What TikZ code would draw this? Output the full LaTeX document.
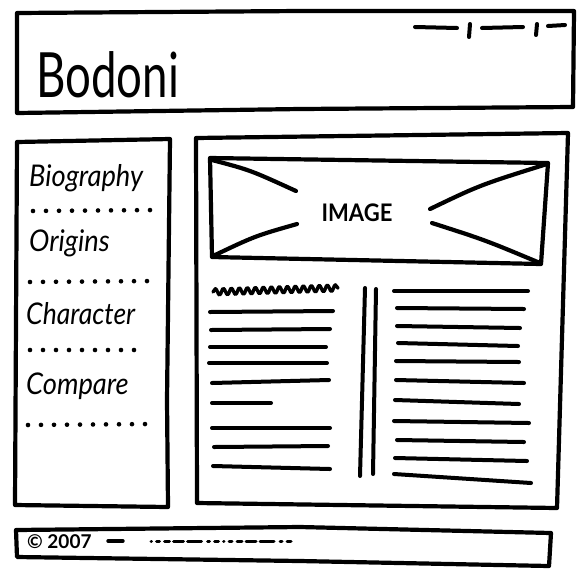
\documentclass[tikz,border=0pt]{standalone}
\usepackage{fontspec}
\setmainfont{Lato}
\usetikzlibrary{decorations.pathmorphing}
\tikzset{
  pen/.style={line width=4.2pt, line join=round, line cap=round, black},
  txtline/.style={line width=4pt, line cap=round, black},
  dotrow/.style={line width=4.6pt, line cap=round, dash pattern=on 0pt off 13pt},
  lbl/.style={inner sep=0pt, anchor=west, font=\fontsize{26}{26}\selectfont\itshape},
}
\begin{document}
\begin{tikzpicture}[x=1pt,y=-1pt]
\useasboundingbox (0,0) rectangle (577,571);
\fill[white] (0,0) rectangle (577,571);
% header
\draw[pen] (17,13) -- (300,11) -- (574,11) -- (573,107) -- (300,109) -- (17,113) -- cycle;
\node[inner sep=0pt, anchor=base west, font=\fontsize{48}{48}\selectfont] (title) at (36,97) {\scalebox{0.95}[1.3]{Bodoni}};
% nav marks
\draw[txtline] (415,27) -- (457,28);
\draw[txtline] (470,24) -- (469,37);
\draw[txtline] (482,28) -- (523,27);
\draw[txtline] (537,24) -- (536,35);
\draw[txtline] (548,26) -- (565,25);
% sidebar
\draw[pen] (17,142) -- (170,139) -- (167,400) -- (168,507) -- (15,505) -- cycle;
\node[lbl] (bio) at (29,178) {\scalebox{1.05}[1.15]{Biography}};
\node[lbl] (ori) at (29,243) {\scalebox{1.05}[1.15]{Origins}};
\node[lbl] (cha) at (26,314) {\scalebox{1.02}[1.15]{Character}};
\node[lbl] (com) at (26,386) {\scalebox{1.05}[1.15]{Compare}};
\draw[dotrow] (33,211) -- (157,210);
\draw[dotrow] (30,282) -- (153,281);
\draw[dotrow] (30,350) -- (146,350);
\draw[dotrow] (28,425) -- (152,424);
% main box
\draw[pen] (196,138) -- (568,133) -- (557,508) -- (197,503) -- cycle;
% image box
\draw[pen] (210,158) -- (548,163) -- (541,264) -- (212,257) -- cycle;
\draw[pen] (212,160) .. controls (250,170) .. (296,191);
\draw[pen] (213,256) .. controls (255,236) .. (297,224);
\draw[pen] (547,164) .. controls (480,185) .. (430,209);
\draw[pen] (432,223) .. controls (485,240) .. (540,263);
\node[inner sep=0pt, font=\fontsize{22}{22}\selectfont\bfseries] (img) at (357,213) {\scalebox{1}[1.1]{IMAGE}};
% heading squiggle
\draw[line width=3.4pt, line cap=round, line join=round, decorate, decoration={snake, amplitude=3.2pt, segment length=8pt}] (213,292) -- (338,288);
% left column lines
\draw[txtline] (210,312) -- (333,311);
\draw[txtline] (211,330) -- (330,329);
\draw[txtline] (210,347) -- (326,347);
\draw[txtline] (209,363) -- (327,363);
\draw[txtline] (212,383) -- (329,380);
\draw[txtline] (212,403) -- (271,403);
\draw[txtline] (212,428) -- (330,428);
\draw[txtline] (214,447) -- (328,446);
\draw[txtline] (213,466) -- (330,469);
% divider
\draw[txtline] (365,288) -- (360,476);
\draw[txtline] (376,289) -- (373,474);
% right column lines
\draw[txtline] (394,291) -- (528,291);
\draw[txtline] (397,308) -- (524,309);
\draw[txtline] (397,326) -- (520,328);
\draw[txtline] (398,343) -- (518,346);
\draw[txtline] (396,361) -- (519,362);
\draw[txtline] (396,380) -- (524,383);
\draw[txtline] (395,400) -- (519,404);
\draw[txtline] (394,421) -- (529,423);
\draw[txtline] (397,440) -- (524,442);
\draw[txtline] (395,458) -- (527,461);
\draw[txtline] (394,474) -- (531,483);
% footer
\draw[pen] (16,530) -- (300,527) -- (551,533) -- (549,566) -- (300,561) -- (17,557) -- cycle;
\node[inner sep=0pt, anchor=west, font=\fontsize{19}{19}\selectfont\bfseries] (copy) at (27,542) {© 2007};
\draw[line width=3.4pt, line cap=round] (108,541) -- (123,541);
\draw[line width=3pt, line cap=round, dash pattern=on 0.5pt off 5pt on 3pt off 5pt on 5pt off 4pt on 10pt off 4pt on 14pt off 6pt on 2pt off 5pt on 4pt off 5pt] (151,541) -- (292,541);
\end{tikzpicture}
\end{document}
